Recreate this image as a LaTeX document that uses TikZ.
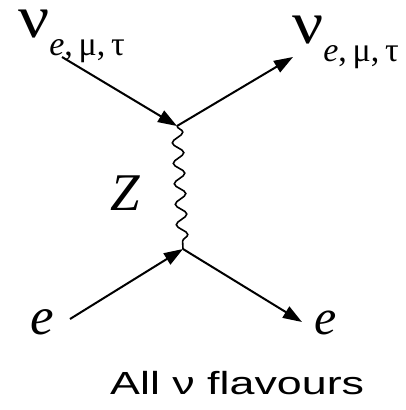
\documentclass[tikz,border=0pt]{standalone}
\usepackage{fontspec}
\setmainfont{Liberation Serif}
\newfontfamily\sansf{Liberation Sans}
\usetikzlibrary{arrows.meta,decorations.pathmorphing}
\newcommand\nulabel{\scalebox{1.15}[1]{\fontsize{60}{60}\selectfont ν}\raisebox{-18pt}{\fontsize{34}{34}\selectfont\itshape e\upshape,\,μ,\,τ}}
\begin{document}
\begin{tikzpicture}[x=1pt,y=-1pt,
  fline/.style={line width=2pt, -{Triangle[length=19pt,width=13pt]}},
  boson/.style={line width=1.6pt, decorate, decoration={snake, segment length=20.5pt, amplitude=5.5pt}},
  lbl/.style={inner sep=0pt, anchor=base west},
  nulbl/.style={lbl, text height=28pt, text depth=28pt}]
\useasboundingbox (0,0) rectangle (406,410);
\coordinate (v1) at (177,126);
\coordinate (v2) at (183,249);
\coordinate (a) at (62,57);
\coordinate (b) at (293,57);
\coordinate (c) at (70,319);
\coordinate (d) at (302,322);
\draw[fline] (a) -- (v1);
\draw[fline] (v1) -- (b);
\draw[boson] (v1) -- (v2);
\draw[fline] (c) -- (v2);
\draw[fline] (v2) -- (d);
\node[nulbl] (nuin) at (18,37) {\nulabel};
\node[nulbl] (nuout) at (292,43) {\nulabel};
\node[lbl] (z) at (110,210) {\fontsize{53}{53}\selectfont\itshape Z};
\node[lbl] (ein) at (30,334) {\fontsize{53}{53}\selectfont\itshape e};
\node[lbl] (eout) at (314,334) {\fontsize{50}{50}\selectfont\itshape e};
\node[lbl] (cap) at (110,394) {\sansf\fontsize{32}{32}\selectfont\scalebox{1.4}[1]{All ν flavours}};
\end{tikzpicture}
\end{document}
